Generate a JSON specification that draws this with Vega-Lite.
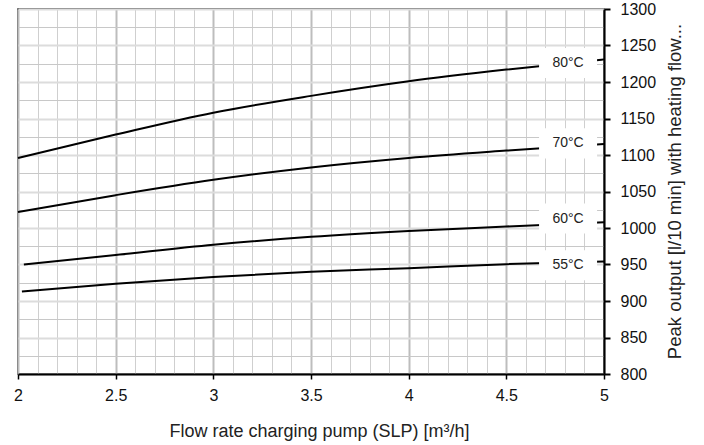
{
  "$schema": "https://vega.github.io/schema/vega-lite/v6.json",
  "width": 586,
  "height": 365,
  "autosize": {"type": "none"},
  "padding": {"left": 18, "top": 9, "right": 100, "bottom": 71},
  "background": "white",
  "config": {"view": {"stroke": "#222", "strokeWidth": 1.5}, "font": "Liberation Sans"},
  "datasets": {
    "curves": [
      {"series": "80", "flow": 2.0, "output": 1096},
      {"series": "80", "flow": 2.5, "output": 1128},
      {"series": "80", "flow": 3.0, "output": 1158},
      {"series": "80", "flow": 3.5, "output": 1181},
      {"series": "80", "flow": 4.0, "output": 1201},
      {"series": "80", "flow": 4.5, "output": 1217},
      {"series": "80", "flow": 5.0, "output": 1231},
      {"series": "70", "flow": 2.0, "output": 1022},
      {"series": "70", "flow": 2.5, "output": 1045},
      {"series": "70", "flow": 3.0, "output": 1066},
      {"series": "70", "flow": 3.5, "output": 1083},
      {"series": "70", "flow": 4.0, "output": 1096},
      {"series": "70", "flow": 4.5, "output": 1106},
      {"series": "70", "flow": 5.0, "output": 1115},
      {"series": "60", "flow": 2.03, "output": 950},
      {"series": "60", "flow": 2.5, "output": 963},
      {"series": "60", "flow": 3.0, "output": 977},
      {"series": "60", "flow": 3.5, "output": 988},
      {"series": "60", "flow": 4.0, "output": 996},
      {"series": "60", "flow": 4.5, "output": 1002},
      {"series": "60", "flow": 5.0, "output": 1008},
      {"series": "55", "flow": 2.02, "output": 913},
      {"series": "55", "flow": 2.5, "output": 923.5},
      {"series": "55", "flow": 3.0, "output": 933},
      {"series": "55", "flow": 3.5, "output": 940},
      {"series": "55", "flow": 4.0, "output": 945},
      {"series": "55", "flow": 4.5, "output": 950.5},
      {"series": "55", "flow": 5.0, "output": 954}
    ],
    "labels": [
      {"label": "80°C", "flow": 4.816, "output": 1226},
      {"label": "70°C", "flow": 4.816, "output": 1116},
      {"label": "60°C", "flow": 4.816, "output": 1013},
      {"label": "55°C", "flow": 4.816, "output": 949}
    ]
  },
  "layer": [
    {
      "data": {"name": "curves"},
      "mark": {"type": "line", "opacity": 0},
      "encoding": {
        "x": {
          "field": "flow", "type": "quantitative",
          "scale": {"domain": [2, 5], "nice": false, "zero": false},
          "axis": {
            "orient": "bottom",
            "values": [2.1, 2.2, 2.3, 2.4, 2.6, 2.7, 2.8, 2.9, 3.1, 3.2, 3.3, 3.4, 3.6, 3.7, 3.8, 3.9, 4.1, 4.2, 4.3, 4.4, 4.6, 4.7, 4.8, 4.9],
            "grid": true, "gridColor": "#cfcfcf", "gridWidth": 1,
            "labels": false, "ticks": false, "domain": false, "title": null
          }
        },
        "y": {
          "field": "output", "type": "quantitative",
          "scale": {"domain": [800, 1300], "nice": false, "zero": false},
          "axis": {
            "orient": "right",
            "values": [825, 875, 925, 975, 1025, 1075, 1125, 1175, 1225, 1275],
            "grid": true, "gridColor": "#c8c8c8", "gridWidth": 1,
            "labels": false, "ticks": false, "domain": false, "title": null
          }
        },
        "detail": {"field": "series"}
      }
    },
    {
      "data": {"name": "curves"},
      "mark": {"type": "line", "color": "#000000", "strokeWidth": 2, "interpolate": "monotone"},
      "encoding": {
        "x": {
          "field": "flow", "type": "quantitative",
          "axis": {
            "orient": "bottom",
            "values": [2, 2.5, 3, 3.5, 4, 4.5, 5],
            "format": "~g",
            "grid": true, "gridColor": "#bdbdbd", "gridWidth": 2,
            "domain": true, "domainColor": "#000000", "domainWidth": 2,
            "ticks": true, "tickColor": "#000000", "tickWidth": 1.5, "tickSize": 5,
            "labelFlush": false, "labelFontSize": 16, "labelColor": "#111111",
            "labelPadding": 8,
            "title": "Flow rate charging pump (SLP) [m³/h]",
            "titleFontSize": 18, "titleFontWeight": "normal", "titleColor": "#222222",
            "titleX": 301, "titleY": 62, "titleAlign": "center", "titleBaseline": "alphabetic"
          }
        },
        "y": {
          "field": "output", "type": "quantitative",
          "axis": {
            "orient": "right",
            "values": [800, 850, 900, 950, 1000, 1050, 1100, 1150, 1200, 1250, 1300],
            "format": "d",
            "grid": true, "gridColor": "#dcdcdc", "gridWidth": 2,
            "domain": true, "domainColor": "#000000", "domainWidth": 2,
            "ticks": true, "tickColor": "#000000", "tickWidth": 2, "tickSize": 6,
            "labelFontSize": 16, "labelColor": "#111111", "labelPadding": 10, "labelBaseline": "middle",
            "title": "Peak output [l/10 min] with heating flow...",
            "titleFontSize": 18.5, "titleFontWeight": "normal", "titleColor": "#222222",
            "titleAngle": 270, "titleX": 70, "titleY": 182,
            "titleAlign": "center", "titleBaseline": "middle", "titleLimit": 600
          }
        },
        "detail": {"field": "series"}
      }
    },
    {
      "data": {"name": "labels"},
      "mark": {"type": "point", "shape": "M-1,-0.52H1V0.52H-1Z", "filled": true, "fill": "#ffffff", "opacity": 1, "size": 3364, "strokeWidth": 0},
      "encoding": {
        "x": {"field": "flow", "type": "quantitative", "axis": null},
        "y": {"field": "output", "type": "quantitative", "axis": null}
      }
    },
    {
      "data": {"name": "labels"},
      "mark": {"type": "text", "fontSize": 14, "color": "#222222", "align": "center", "baseline": "middle"},
      "encoding": {
        "x": {"field": "flow", "type": "quantitative", "axis": null},
        "y": {"field": "output", "type": "quantitative", "axis": null},
        "text": {"field": "label"}
      }
    }
  ],
  "resolve": {"axis": {"x": "independent", "y": "independent"}}
}
